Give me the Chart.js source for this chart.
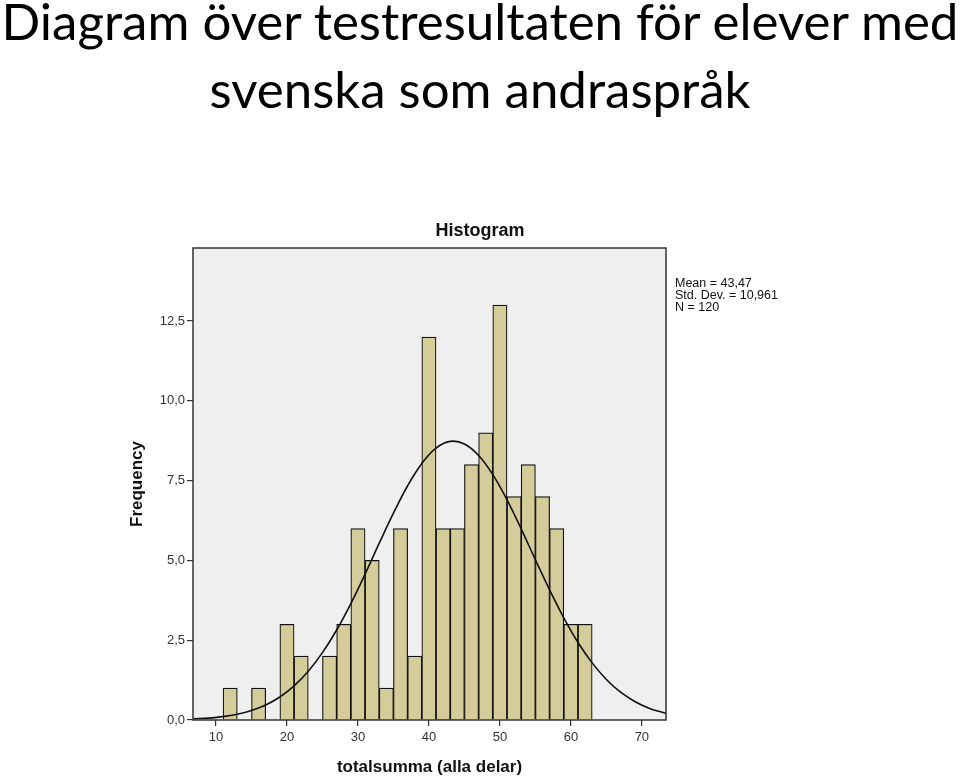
<!DOCTYPE html>
<html>
<head>
<meta charset="utf-8">
<script src="https://cdn.jsdelivr.net/npm/chart.js@4.4.0/dist/chart.umd.min.js"></script>
<style>
  body { margin: 0; background: #fff; width: 960px; height: 778px; overflow: hidden; position: relative; }
  .heading { position: absolute; left: 0; width: 960px; text-align: center; white-space: nowrap;
    font-family: Lato, sans-serif; font-size: 51px; line-height: 40px; color: #000; }
  #chartTitle { position: absolute; left: 380px; top: 220px; width: 200px; text-align: center;
    font-family: "Liberation Sans", Arial, sans-serif; font-weight: bold; font-size: 18px; color: #111; }
  #stats { position: absolute; left: 675px; top: 277px; font-family: "Liberation Sans", Arial, sans-serif;
    font-size: 12.5px; line-height: 12px; color: #111; }
  #wrap { position: absolute; left: 0; top: 0; width: 960px; height: 778px; }
</style>
</head>
<body>
<div class="heading" style="top:1px">Diagram över testresultaten för elever med</div>
<div class="heading" style="top:69px">svenska som andraspråk</div>
<div id="wrap"><canvas id="myChart" width="960" height="778"></canvas></div>
<div id="chartTitle">Histogram</div>
<div id="stats">Mean = 43,47<br>Std. Dev. = 10,961<br>N = 120</div>
<script>
// bin centres (bin width 2) and counts
var binCenters = [12, 14, 16, 18, 20, 22, 24, 26, 28, 30, 32, 34, 36, 38, 40, 42, 44, 46, 48, 50, 52, 54, 56, 58, 60, 62];
var counts = [1, 0, 1, 0, 3, 2, 0, 2, 3, 6, 5, 1, 6, 2, 12, 6, 6, 8, 9, 13, 7, 8, 7, 6, 3, 3];

// normal curve
var curveX = [6.8, 9, 11, 13, 15, 17, 19, 21, 23, 25, 27, 29, 31, 33, 35, 37, 39, 41, 43, 45, 47, 49, 51, 53, 55, 57, 59, 61, 63, 65, 67, 69, 71, 73.4];
var curveY = [0.04, 0.06, 0.11, 0.18, 0.30, 0.47, 0.72, 1.07, 1.53, 2.11, 2.82, 3.65, 4.57, 5.54, 6.48, 7.34, 8.04, 8.52, 8.73, 8.65, 8.29, 7.69, 6.90, 5.99, 5.02, 4.08, 3.20, 2.43, 1.79, 1.27, 0.87, 0.58, 0.37, 0.21];

var xTicks = [10, 20, 30, 40, 50, 60, 70];
var yTicks = [0, 2.5, 5, 7.5, 10, 12.5];

var plotBox = {
  id: "plotBox",
  beforeDatasetsDraw: function (chart) {
    var a = chart.chartArea;
    var ctx = chart.ctx;
    ctx.save();
    ctx.fillStyle = "#efefef";
    ctx.fillRect(a.left, a.top, a.right - a.left, a.bottom - a.top);
    ctx.restore();
  },
  afterDatasetsDraw: function (chart) {
    var a = chart.chartArea;
    var ctx = chart.ctx;
    ctx.save();
    ctx.strokeStyle = "#333";
    ctx.lineWidth = 1.5;
    ctx.strokeRect(a.left, a.top, a.right - a.left, a.bottom - a.top);
    ctx.restore();
  }
};

function comma(v) {
  return v.toFixed(1).replace(".", ",");
}

new Chart("myChart", {
  type: "bar",
  data: {
    datasets: [
      {
        type: "line",
        data: curveX.map(function (x, i) { return { x: x, y: curveY[i] }; }),
        borderColor: "#111",
        borderWidth: 1.6,
        pointRadius: 0,
        tension: 0.4,
        fill: false,
        order: 0
      },
      {
        type: "bar",
        data: binCenters.map(function (x, i) { return { x: x, y: counts[i] }; }),
        backgroundColor: "#d4cd9a",
        borderColor: "#111",
        borderWidth: 1.2,
        barPercentage: 1,
        categoryPercentage: 1,
        order: 1
      }
    ]
  },
  options: {
    responsive: false,
    animation: false,
    devicePixelRatio: 1,
    layout: { padding: { top: 248, right: 294, left: 0, bottom: 0 } },
    plugins: { legend: { display: false }, tooltip: { enabled: false } },
    scales: {
      x: {
        type: "linear",
        min: 6.76,
        max: 73.4,
        afterFit: function (s) { s.height = 58; },
        afterBuildTicks: function (s) { s.ticks = xTicks.map(function (v) { return { value: v }; }); },
        border: { display: false },
        grid: { drawOnChartArea: false, drawTicks: true, tickLength: 6, color: "#333", lineWidth: 1.2, offset: false },
        offset: false,
        ticks: { color: "#333", font: { family: "Liberation Sans", size: 13 }, padding: 4, maxRotation: 0 },
        title: { display: true, text: "totalsumma (alla delar)", color: "#111",
          font: { family: "Liberation Sans", size: 17, weight: "bold" }, padding: { top: 0, bottom: 0 } }
      },
      y: {
        type: "linear",
        min: 0,
        max: 14.79,
        afterFit: function (s) { s.width = 193; },
        afterBuildTicks: function (s) { s.ticks = yTicks.map(function (v) { return { value: v }; }); },
        border: { display: false },
        grid: { drawOnChartArea: false, drawTicks: true, tickLength: 6, color: "#333", lineWidth: 1.2 },
        ticks: { color: "#333", font: { family: "Liberation Sans", size: 13 }, padding: 2,
          callback: function (v) { return comma(v); } },
        title: { display: true, text: "Frequency", color: "#111",
          font: { family: "Liberation Sans", size: 17, weight: "bold" }, padding: { top: 127, bottom: 0 } }
      }
    }
  },
  plugins: [plotBox]
});
</script>
</body>
</html>
